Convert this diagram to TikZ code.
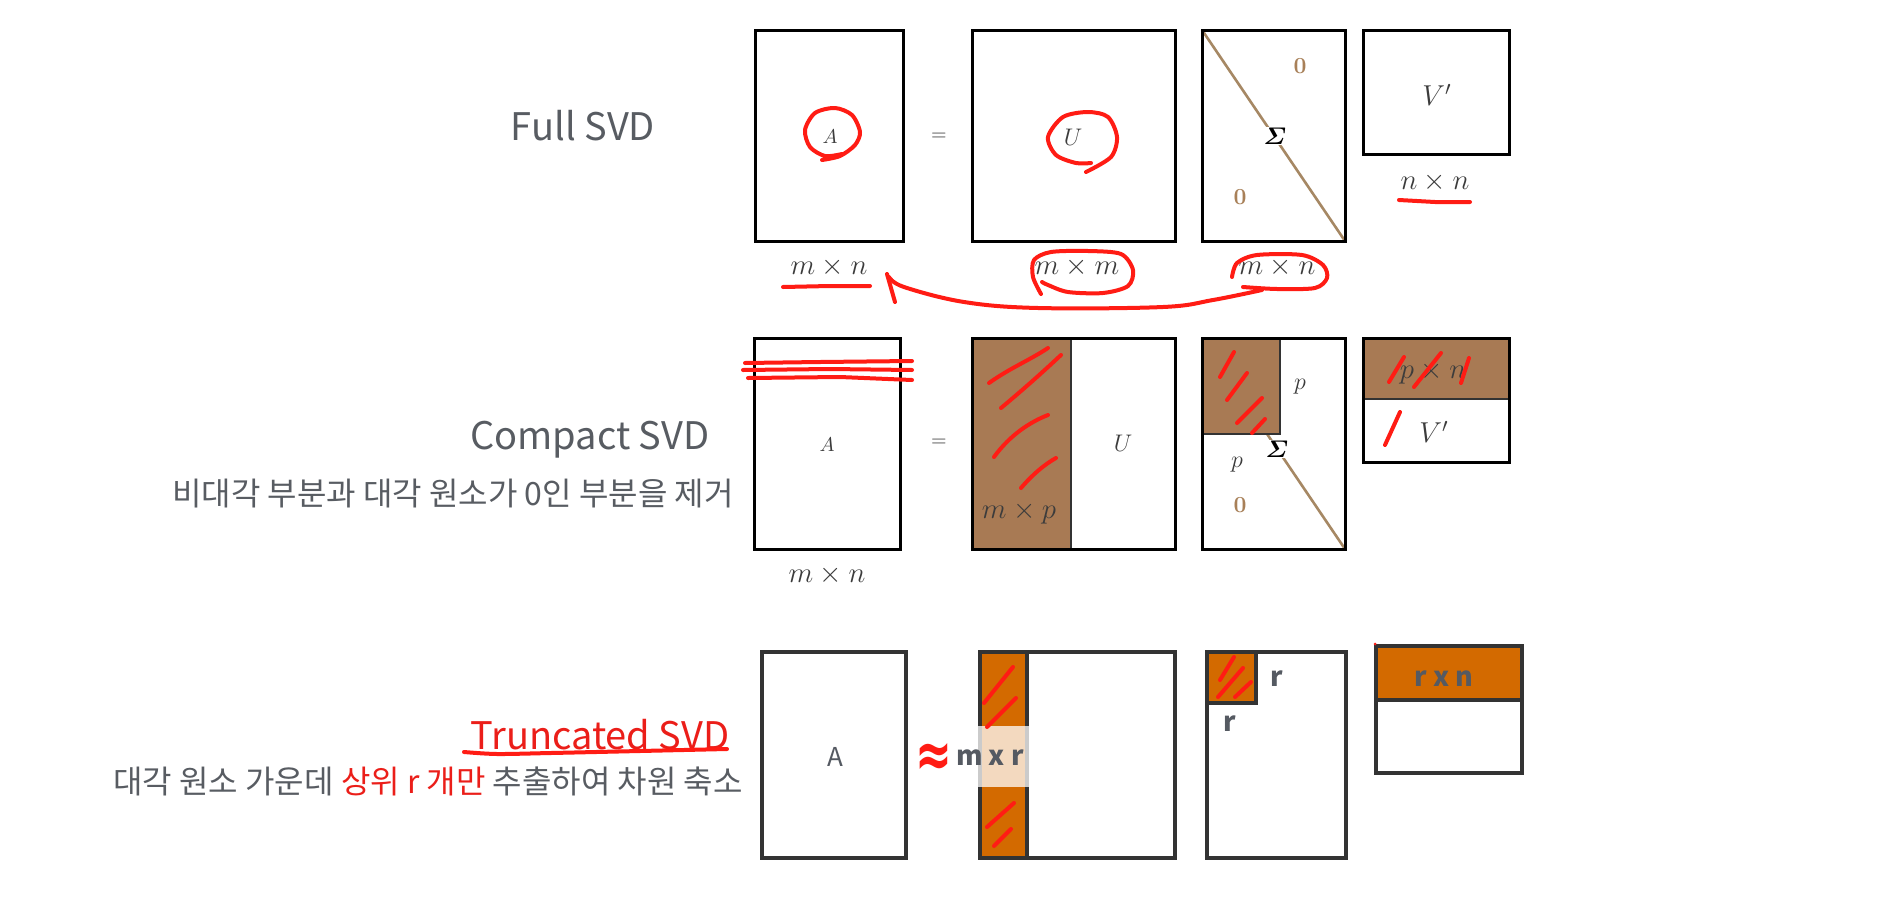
\documentclass[tikz,border=0pt]{standalone}
\usepackage{amsmath}
\usepackage{graphicx}
\usepackage{fontspec}
\newfontfamily\krfont{Noto Sans CJK KR}
\newfontfamily\djfont{DejaVu Sans}
\usetikzlibrary{calc}
\definecolor{txtgray}{RGB}{88,92,98}
\definecolor{brownfill}{RGB}{168,122,84}
\definecolor{orangefill}{RGB}{211,106,0}
\definecolor{tanline}{RGB}{166,136,100}
\definecolor{zerocol}{RGB}{168,128,88}
\definecolor{handred}{RGB}{255,28,20}
\definecolor{textred}{RGB}{235,30,25}
\definecolor{darkborder}{RGB}{51,51,51}
\definecolor{mathgray}{RGB}{60,60,60}
\definecolor{tgray}{RGB}{85,90,98}
\begin{document}
\begin{tikzpicture}[x=0.5pt,y=-0.5pt,
  mbox/.style={draw=black,line width=1.5pt},
  tbox/.style={draw=darkborder,line width=2.3pt},
  thinsep/.style={draw=black!80,line width=0.9pt},
  diagline/.style={draw=tanline,line width=1.3pt},
  hand/.style={draw=handred,line width=2pt,line cap=round,line join=round},
  mlab/.style={text=mathgray,inner sep=1pt,font=\fontsize{14}{16}\selectfont},
  smlab/.style={text=mathgray,inner sep=1pt,font=\fontsize{10}{12}\selectfont},
  zlab/.style={text=zerocol,inner sep=1pt,font=\fontsize{11.5}{13}\selectfont},
  plab/.style={text=mathgray,inner sep=1pt,font=\fontsize{12.5}{14}\selectfont},
  sigl/.style={text=black,inner sep=0.5pt,fill=white,font=\fontsize{12}{14}\selectfont},
  title/.style={text=txtgray,inner sep=0pt,font=\krfont\fontsize{19}{23}\selectfont},
  subt/.style={text=txtgray,inner sep=0pt,font=\krfont\fontsize{16}{19}\selectfont},
  tlab/.style={text=tgray,inner sep=0pt,font=\krfont\bfseries\fontsize{13.5}{16}\selectfont},
]
\fill[white] (0,0) rectangle (1902,900);
\useasboundingbox (0,0) rectangle (1902,900);

% ---------------- Row 1: Full SVD ----------------
\node[title] (tfull) at (583,126) {Full SVD};
\draw[mbox] (755,30) rectangle (903,241);
\draw[mbox] (972,30) rectangle (1175,241);
\draw[diagline] (1202,30) -- (1345,241);
\draw[mbox] (1202,30) rectangle (1345,241);
\draw[mbox] (1363,30) rectangle (1509,154);

\node[smlab] (a1) at (830,137) {$A$};
\node[smlab] (eq1) at (939,137) {$=$};
\node[smlab,font=\fontsize{11.5}{13}\selectfont] (u1) at (1073,137) {$U$};
\node[sigl] (s1) at (1275,136) {$\boldsymbol{\varSigma}$};
\node[zlab] (z1a) at (1300,66) {\textbf{0}};
\node[zlab] (z1b) at (1240,197) {\textbf{0}};
\node[mlab] (v1) at (1437,95) {$V'$};
\node[mlab] (d1v) at (1435,182) {$n \times n$};
\node[mlab] (d1a) at (829,267) {$m \times n$};
\node[mlab] (d1u) at (1077,267) {$m \times m$};
\node[mlab] (d1s) at (1277,267) {$m \times n$};

% red annotations row 1
\draw[hand] plot[smooth] coordinates {(822,160) (840,156) (855,145) (860,132) (852,115) (835,108) (815,113) (805,130) (810,147) (825,156) (842,154)};
\draw[hand] plot[smooth] coordinates {(1086,172) (1111,157) (1117,137) (1108,117) (1088,112) (1063,117) (1048,137) (1056,155) (1076,163) (1091,163)};
\draw[hand] plot[smooth] coordinates {(1041,294) (1033,277) (1034,260) (1051,252) (1088,251) (1121,254) (1133,270) (1128,286) (1103,293) (1068,292) (1048,285) (1042,282)};
\draw[hand] plot[smooth] coordinates {(1232,277) (1237,263) (1257,255) (1302,255) (1323,265) (1327,278) (1315,288) (1277,289) (1243,287)};
\draw[hand] (783,287) -- (830,286) -- (870,286);
\draw[hand] (1399,200) -- (1435,202) -- (1470,202);
\coordinate (arrstart) at (1262,290);
\coordinate (arrtip) at (889,277);
\draw[hand] plot[smooth,tension=0.6] coordinates {(arrstart) (1213,300) (1163,307) (1038,308) (964,302) (904,287) (arrtip)};
\draw[hand] (887,274) -- (895,302);

% ---------------- Row 2: Compact SVD ----------------
\node[title] (tcomp) at (590,440) {Compact SVD};
\node[subt] (scomp) at (453,494) {비대각 부분과 대각 원소가 0인 부분을 제거};

\draw[mbox] (754,338) rectangle (900,549);
\fill[brownfill] (972,338) rectangle (1071,549);
\draw[thinsep] (1071,338) -- (1071,549);
\draw[mbox] (972,338) rectangle (1175,549);
\draw[diagline] (1202,338) -- (1345,549);
\fill[brownfill] (1202,338) rectangle (1280,434);
\draw[thinsep] (1280,338) -- (1280,434) -- (1202,434);
\draw[mbox] (1202,338) rectangle (1345,549);
\fill[brownfill] (1363,338) rectangle (1509,399);
\draw[thinsep] (1363,399) -- (1509,399);
\draw[mbox] (1363,338) rectangle (1509,462);

\node[smlab] (a2) at (827,445) {$A$};
\node[smlab] (eq2) at (939,443) {$=$};
\node[smlab,font=\fontsize{11.5}{13}\selectfont] (u2) at (1123,443) {$U$};
\node[mlab] (d2p) at (1019,513) {$m \times p$};
\node[plab] (p2a) at (1300,387) {$p$};
\node[plab] (p2b) at (1237,465) {$p$};
\node[zlab] (z2) at (1240,505) {\textbf{0}};
\node[sigl] (s2) at (1277,449) {$\boldsymbol{\varSigma}$};
\node[mlab] (d2v) at (1433,373) {$p \times n$};
\node[mlab] (v2) at (1434,432) {$V'$};
\node[mlab] (d2a) at (827,575) {$m \times n$};

% red annotations row 2
\draw[hand] (745,363) -- (820,362) -- (912,361);
\draw[hand] (743,370) -- (830,369) -- (912,370);
\draw[hand] (748,378) -- (840,377) -- (912,380);
\draw[hand] (989,383) .. controls (1010,368) and (1030,360) .. (1048,348);
\draw[hand] (1001,408) .. controls (1025,388) and (1045,370) .. (1061,355);
\draw[hand] (994,457) .. controls (1010,435) and (1030,422) .. (1048,415);
\draw[hand] (1021,488) .. controls (1032,475) and (1045,464) .. (1056,458);
\draw[hand] (1220,377) -- (1234,352);
\draw[hand] (1227,400) -- (1247,373);
\draw[hand] (1237,423) -- (1262,398);
\draw[hand] (1252,433) -- (1265,419);
\draw[hand] (1389,382) -- (1404,357);
\draw[hand] (1414,387) -- (1441,353);
\draw[hand] (1461,383) -- (1469,358);
\draw[hand] (1385,445) -- (1400,412);

% ---------------- Row 3: Truncated SVD ----------------
\node[title,text=textred] (ttrunc) at (600,735) {Truncated SVD};
\draw[hand] plot[smooth] coordinates {(464,752) (497,754) (551,753) (640,751) (727,749)};
\node[subt] (strunc) at (428,781) {대각 원소 가운데 {\color{textred}상위 r 개만} 추출하여 차원 축소};

\draw[tbox,fill=white] (762,652) rectangle (906,858);
\draw[tbox,fill=orangefill] (980,652) rectangle (1027,858);
\draw[tbox] (980,652) rectangle (1175,858);
\draw[tbox,fill=orangefill] (1207,652) rectangle (1256,703);
\draw[tbox] (1207,652) rectangle (1346,858);
\draw[tbox,fill=orangefill] (1376,646) rectangle (1522,700);
\draw[tbox] (1376,646) rectangle (1522,773);
\fill[white,opacity=0.75] (978,726) rectangle (1030,787);

\node[text=tgray,inner sep=0pt,font=\krfont\fontsize{13}{16}\selectfont] (a3) at (835,757) {A};
\node[text=handred,inner sep=0pt,font=\djfont\bfseries\fontsize{22}{24}\selectfont] (apx) at (934,760) {\scalebox{1}[1.45]{≈}};
\node[tlab] (d3u) at (990,758) {m x r};
\node[tlab] (r3a) at (1277,679) {r};
\node[tlab] (r3b) at (1230,724) {r};
\node[tlab] (d3v) at (1444,679) {r x n};
\fill[handred] (1375,644) circle (1.5);

% red annotations row 3
\draw[hand] (984,703) -- (1013,667);
\draw[hand] (987,727) -- (1016,698);
\draw[hand] (987,827) -- (1014,803);
\draw[hand] (994,846) -- (1011,829);
\draw[hand] (1220,680) -- (1234,657);
\draw[hand] (1218,697) -- (1243,668);
\draw[hand] (1235,697) -- (1251,682);
\end{tikzpicture}
\end{document}
